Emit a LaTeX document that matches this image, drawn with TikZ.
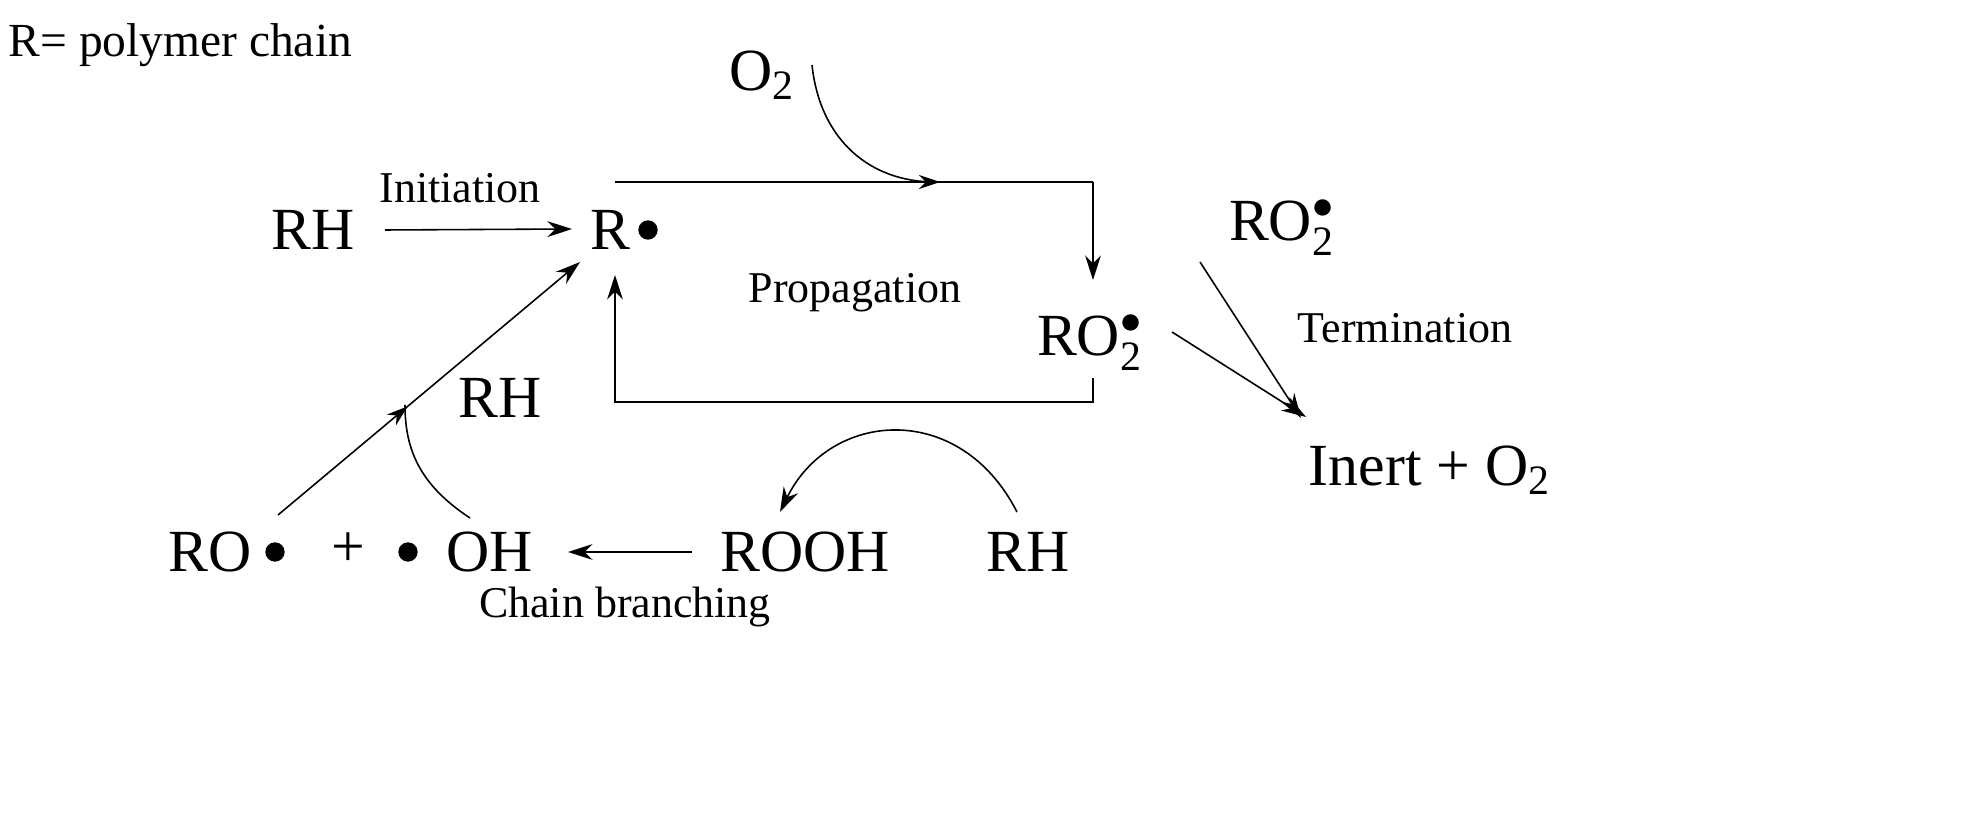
\documentclass[tikz,border=0pt]{standalone}
\usepackage{fontspec}
\setmainfont{Liberation Serif}
\usetikzlibrary{arrows.meta,decorations.markings}
\newcommand{\subtwo}{\textsubscript{2}}
\begin{document}
\begin{tikzpicture}[x=0.01cm,y=-0.01cm,
 big/.style={font=\fontsize{17}{20}\selectfont,inner sep=0pt},
 lab/.style={font=\fontsize{12.5}{15}\selectfont,inner sep=0pt},
 arr/.style={-{Stealth[length=7pt,width=4.5pt]},line width=0.45pt},
 ln/.style={line width=0.45pt},
 mid/.style={postaction={decorate},decoration={markings,mark=at position #1 with {\arrow{Stealth[length=6pt,width=4pt]}}}},
 dot/.style={circle,fill=black,inner sep=0pt,minimum size=5.5pt}]
\useasboundingbox (0,0) rectangle (1974,819);
\node[lab,anchor=west,font=\fontsize{13.5}{16}\selectfont] (leg) at (8,45) {R= polymer chain};
\node[big] (rh1) at (313,230) {RH};
\node[lab] (init) at (460,188) {Initiation};
\node[big] (r) at (610,230) {R};
\node[dot] (rd) at (648,230) {};
\node[big] (o2) at (762,75) {O\subtwo};
\node[lab] (prop) at (855,293) {Propagation};
\node[big] (ro2) at (1090,343) {RO$_{\mathrm{2}}^{\bullet}$};
\node[big] (ro2b) at (1282,228) {RO$_{\mathrm{2}}^{\bullet}$};
\node[lab] (term) at (1405,328) {Termination};
\node[big] (inert) at (1430,470) {Inert + O\subtwo};
\node[big] (rh2) at (500,398) {RH};
\node[big] (ro) at (210,552) {RO};
\node[dot] (rod) at (275,552) {};
\node[big] (plus) at (348,550) {+};
\node[dot] (ohd) at (408,552) {};
\node[big] (oh) at (490,552) {OH};
\node[big] (rooh) at (805,552) {ROOH};
\node[big] (rh3) at (1028,552) {RH};
\node[lab] (cb) at (625,607) {Chain branching};
\coordinate (t1) at (615,182);
\coordinate (t2) at (1093,182);
\coordinate (t3) at (1093,280);
\coordinate (m) at (935,182);
\coordinate (b1) at (1093,378);
\coordinate (b2) at (1093,402);
\coordinate (b3) at (615,402);
\coordinate (b4) at (615,275);
\coordinate (a1) at (278,515);
\coordinate (a2) at (580,262);
\coordinate (am) at (405,405);
\draw[arr] (385,230) -- (572,229);
\draw[ln,mid=0.68] (t1) -- (t2);
\draw[arr] (t2) -- (t3);
\draw[ln] (812,65) .. controls (820,140) and (870,182) .. (m);
\draw[arr] (b1) -- (b2) -- (b3) -- (b4);
\draw[arr,mid=0.43] (a1) -- (a2);
\draw[ln] (470,518) .. controls (420,485) and (405,450) .. (am);
\draw[arr] (1017,512) .. controls (960,400) and (830,410) .. (780,512);
\draw[arr] (692,552) -- (568,552);
\draw[arr] (1172,332) -- (1306,417);
\draw[arr] (1200,262) -- (1301,418);
\end{tikzpicture}
\end{document}
